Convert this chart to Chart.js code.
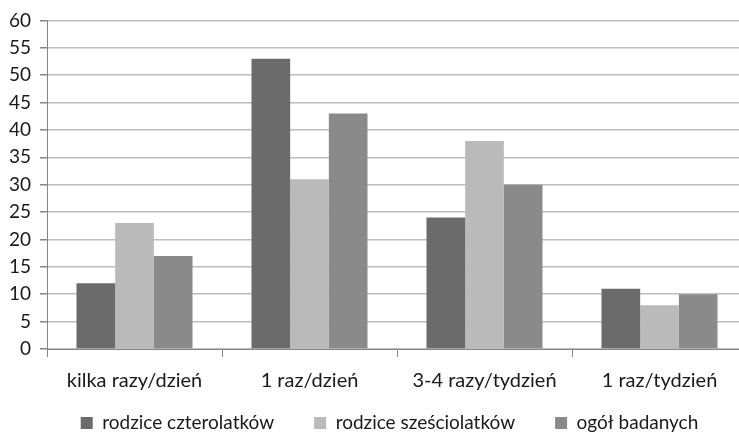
<!DOCTYPE html>
<html>
<head>
<meta charset="utf-8">
<script src="https://cdn.jsdelivr.net/npm/chart.js@4/dist/chart.umd.min.js"></script>
<style>
  html, body { margin: 0; padding: 0; background: #fff; overflow: hidden; }
  #wrap { width: 750px; height: 437px; }
</style>
</head>
<body>
<div id="wrap"><canvas id="c" width="750" height="437"></canvas></div>
<script>
const categories = ['kilka razy/dzień', '1 raz/dzień', '3-4 razy/tydzień', '1 raz/tydzień'];
const seriesNames = ['rodzice czterolatków', 'rodzice sześciolatków', 'ogół badanych'];
const czterolatki = [12, 53, 24, 11];
const szesciolatki = [23, 31, 38, 8];
const ogol = [17, 43, 30, 10];
const yTicks = [0, 5, 10, 15, 20, 25, 30, 35, 40, 45, 50, 55, 60];

const colors = ['#6b6b6b', '#bababa', '#8a8a8a'];
const FONT = 'Lato, "Open Sans", sans-serif';
const LEGEND_PAD = 40;
const LEGEND_FONT = 19;
const LEGEND_TEXT_Y = 423;
const LEGEND_SHIFT_X = 16;

// Keep the legend's item spacing without letting it reserve that much height.
const compactLegend = {
  id: 'compactLegend',
  beforeLayout(chart) {
    const lg = chart.legend;
    if (lg && !lg._compact) {
      const fit = lg.fit;
      lg.fit = function () { fit.call(this); this.height = 34; };
      lg._compact = true;
    }
  },
  afterLayout(chart) {
    const lg = chart.legend;
    if (!lg) return;
    lg.top = LEGEND_TEXT_Y - LEGEND_PAD - LEGEND_FONT / 2;
    lg.bottom = chart.height;
    lg.height = lg.bottom - lg.top;
    lg.left += LEGEND_SHIFT_X;
    lg.right += LEGEND_SHIFT_X;
  }
};

new Chart(document.getElementById('c'), {
  type: 'bar',
  data: {
    labels: categories,
    datasets: [czterolatki, szesciolatki, ogol].map((d, i) => ({
      label: seriesNames[i],
      data: d,
      backgroundColor: colors[i],
      borderWidth: 0,
      barPercentage: 1,
      categoryPercentage: 0.663
    }))
  },
  plugins: [compactLegend],
  options: {
    responsive: false,
    animation: false,
    layout: { padding: { top: 15, right: 3, left: 0, bottom: 4 } },
    plugins: {
      tooltip: { enabled: false },
      legend: {
        position: 'bottom',
        labels: {
          boxWidth: 12,
          boxHeight: 12,
          padding: LEGEND_PAD,
          color: '#1a1a1a',
          font: { family: FONT, size: LEGEND_FONT }
        }
      }
    },
    scales: {
      x: {
        grid: {
          offset: true,
          drawOnChartArea: false,
          tickLength: 8,
          color: '#868686',
          lineWidth: 1
        },
        border: { color: '#868686', width: 1 },
        ticks: {
          color: '#1a1a1a',
          padding: 12,
          font: { family: FONT, size: 20 }
        },
        afterFit: (s) => { s.height = 50; }
      },
      y: {
        min: 0,
        max: 60,
        afterBuildTicks: (s) => { s.ticks = yTicks.map(v => ({ value: v })); },
        grid: {
          color: '#bdbdbd',
          lineWidth: 1.5,
          tickLength: 7,
          tickColor: '#868686'
        },
        border: { color: '#868686', width: 1 },
        ticks: {
          autoSkip: false,
          color: '#1a1a1a',
          padding: 9,
          font: { family: FONT, size: 19 }
        },
        afterFit: (s) => { s.width = 47; }
      }
    }
  }
});
</script>
</body>
</html>
